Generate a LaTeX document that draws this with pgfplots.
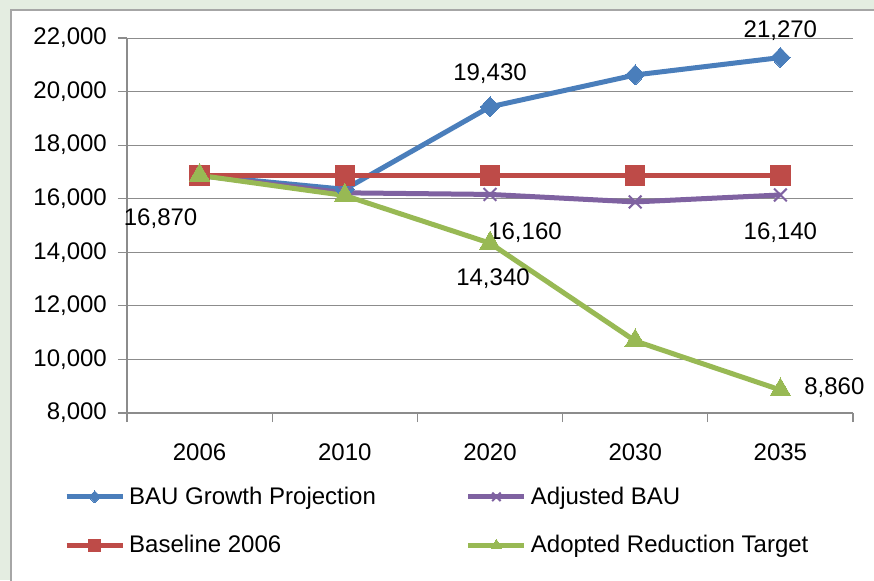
\documentclass[border=0pt]{standalone}
\usepackage{pgfplots}
\pgfplotsset{compat=1.18}
\usepackage{fontspec}
\setmainfont{Liberation Sans}

\definecolor{bggreen}{HTML}{E4EDE1}
\definecolor{framegray}{HTML}{A6A6A6}
\definecolor{gridgray}{HTML}{8C8C8C}
\definecolor{bau}{HTML}{4A7EBB}
\definecolor{base}{HTML}{BE4B48}
\definecolor{adj}{HTML}{7F62A1}
\definecolor{target}{HTML}{98B954}

\newcommand{\lab}{\fontsize{12}{14}\selectfont}

\begin{document}
\begin{tikzpicture}
\useasboundingbox (0pt,0pt) rectangle (437pt,290pt);
\fill[bggreen] (0pt,0pt) rectangle (437pt,290pt);
\filldraw[fill=white,draw=framegray,line width=0.9pt] (5.5pt,-10pt) rectangle (450pt,285pt);
\begin{axis}[
    at={(63.5pt,83.5pt)}, anchor=south west,
    scale only axis, width=363pt, height=187.5pt,
    clip=false,
    xmin=-0.5, xmax=4.5, ymin=8000, ymax=22000,
    xtick={0,1,2,3,4},
    xticklabels={2006,2010,2020,2030,2035},
    minor xtick={-0.5,0.5,1.5,2.5,3.5,4.5},
    major x tick style={draw=none},
    ytick={8000,10000,...,22000},
    scaled y ticks=false,
    ymajorgrids, grid style={gridgray,line width=0.5pt},
    axis x line*=bottom, axis y line*=left,
    axis line style={gridgray,line width=0.6pt,-},
    tick style={gridgray,line width=0.6pt},
    tick align=outside, major tick length=4.5pt, minor tick length=4.5pt,
    ticklabel style={font=\lab},
    /pgf/number format/assume math mode=true,
    yticklabel style={/pgf/number format/1000 sep={,}, xshift=-1pt},
    xticklabel style={yshift=-6.5pt},
    line width=2.5pt,
    legend columns=2,
    legend cell align=left,
    legend style={at={(-0.09,-0.179)}, anchor=north west, draw=none, fill=none,
        font=\lab, row sep=10pt, inner sep=0pt,
        /tikz/every even column/.append style={column sep=43pt}},
    legend image code/.code={\draw[#1,mark repeat=2,mark phase=2,mark size=3pt]
        plot coordinates {(0pt,0pt)(14pt,0pt)(28pt,0pt)};},
]
\addplot[bau, mark=diamond*, mark size=5pt, mark options={solid,line width=0pt,xscale=1.3}]
  coordinates {(0,16870) (1,16350) (2,19430) (3,20620) (4,21270)};
\addlegendentry{BAU Growth Projection}
\addplot[adj, mark=x, mark size=4.5pt, mark options={line width=1pt}]
  coordinates {(0,16870) (1,16220) (2,16160) (3,15880) (4,16140)};
\addlegendentry{Adjusted BAU}
\addplot[base, mark=square*, mark size=4.8pt, mark options={line width=0pt}]
  coordinates {(0,16870) (1,16870) (2,16870) (3,16870) (4,16870)};
\addlegendentry{Baseline 2006}
\addplot[target, mark=triangle*, mark size=6pt, mark options={line width=0pt}]
  coordinates {(0,16870) (1,16120) (2,14340) (3,10690) (4,8860)};
\addlegendentry{Adopted Reduction Target}

\node[font=\lab] at (axis cs:0,16870) [xshift=-19.5pt,yshift=-21.5pt] {16,870};
\node[font=\lab] at (axis cs:2,19430) [yshift=16.5pt] {19,430};
\node[font=\lab] at (axis cs:2,16160) [xshift=17.5pt,yshift=-19pt] {16,160};
\node[font=\lab] at (axis cs:2,14340) [xshift=1.5pt,yshift=-17.5pt] {14,340};
\node[font=\lab] at (axis cs:4,21270) [yshift=13.5pt] {21,270};
\node[font=\lab] at (axis cs:4,16140) [yshift=-19pt] {16,140};
\node[font=\lab] at (axis cs:4,8860) [xshift=27pt,yshift=1pt] {8,860};
\end{axis}
\end{tikzpicture}
\end{document}
